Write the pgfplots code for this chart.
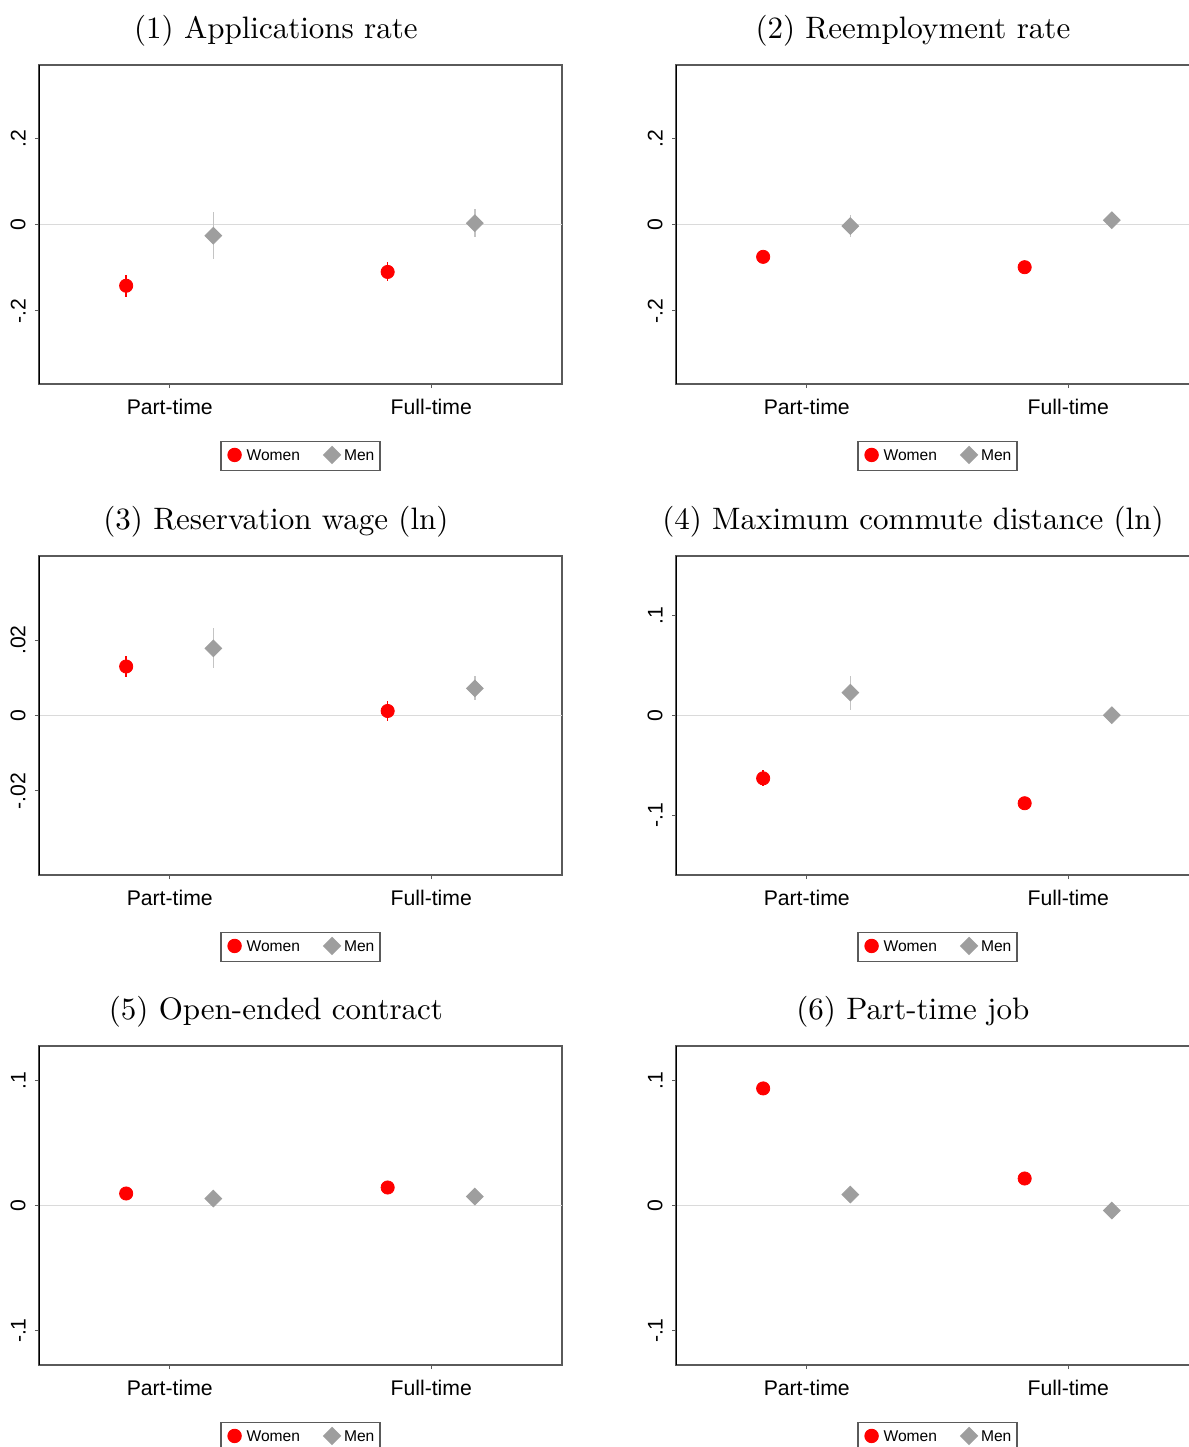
\documentclass[border=0pt]{standalone}
\usepackage{fontspec}
\usepackage{pgfplots}
\pgfplotsset{compat=1.18}
\newfontfamily\arial{Liberation Sans}
\newfontfamily\titlefont{lmroman10-regular.otf}
\definecolor{menGray}{RGB}{158,158,158}
\definecolor{menBar}{RGB}{196,196,196}
\definecolor{zeroLine}{RGB}{218,218,218}
\definecolor{frameGray}{RGB}{90,90,90}
\pgfplotsset{
  panel/.style={
    scale only axis, width=261.5pt, height=159.5pt,
    anchor=south west,
    xmin=0.5, xmax=2.5, xtick={1,2}, xticklabels={Part-time,Full-time},
    xtick pos=bottom, ytick pos=left,
    scaled y ticks=false,
    tick align=outside, major tick length=2pt,
    tick style={frameGray, line width=0.5pt},
    axis line style={frameGray, line width=0.6pt},
    ticklabel style={font=\arial\fontsize{10.6}{12}\selectfont},
    yticklabel style={rotate=90, anchor=south, inner sep=0pt},
    yticklabel shift=4.5pt,
    xticklabel style={anchor=north, inner sep=0pt},
    xticklabel shift=5.5pt,
    title style={at={(0.453,1)}, anchor=base, yshift=7.5pt, inner sep=0pt,
      font=\titlefont\fontsize{15.5}{18}\selectfont},
    legend style={at={(0.5,-0.1787)}, anchor=north, legend columns=2,
      draw=frameGray, line width=0.6pt, inner xsep=1.8pt, inner ysep=2.5pt,
      font=\arial\fontsize{7.8}{9}\selectfont,
      nodes={inner sep=1pt},
      /tikz/every even column/.append style={column sep=10pt}},
    legend image code/.code={\path[draw=none,fill=none] (0pt,1pt) (10pt,1pt);
      \draw[mark repeat=2,mark phase=2,##1] plot coordinates {(0pt,1pt) (5pt,1pt) (10pt,1pt)};},
  },
  women/.style={only marks, mark=*, mark size=3.3pt, color=red,
    error bars/.cd, y dir=both, y explicit, error mark=none,
    error bar style={red, line width=0.7pt}},
  men/.style={only marks, mark=square*, mark size=2.95pt, color=menGray,
    mark options={rotate=45, fill=menGray, draw=menGray},
    error bars/.cd, y dir=both, y explicit, error mark=none,
    error bar style={menBar, line width=0.7pt}},
}
\newcommand{\zeroline}{\addplot[zeroLine, line width=0.7pt, forget plot] coordinates {(0.5,0) (2.5,0)};}
\newcommand{\yaxisline}{\draw[black, line width=0.7pt] (rel axis cs:0,0) -- (rel axis cs:0,1);}
\begin{document}
\begin{tikzpicture}
\useasboundingbox (0pt,0pt) rectangle (594.5pt,-723.5pt);
\clip (0pt,0pt) rectangle (594.5pt,-723.5pt);

% (1)
\begin{axis}[panel, at={(19.5pt,-192pt)}, title={(1) Applications rate},
  ymin=-0.37, ymax=0.37, ytick={-0.2,0,0.2}, yticklabels={-.2,0,.2}]
\zeroline
\addplot[women] coordinates {(0.8333,-0.142) +- (0,0.026) (1.8333,-0.110) +- (0,0.022)};
\addplot[men] coordinates {(1.1667,-0.026) +- (0,0.055) (2.1667,0.003) +- (0,0.032)};
\legend{Women,Men}
\yaxisline
\end{axis}

% (2)
\begin{axis}[panel, at={(338pt,-192pt)}, title={(2) Reemployment rate},
  ymin=-0.37, ymax=0.37, ytick={-0.2,0,0.2}, yticklabels={-.2,0,.2}]
\zeroline
\addplot[women] coordinates {(0.8333,-0.075) +- (0,0.006) (1.8333,-0.099) +- (0,0.006)};
\addplot[men] coordinates {(1.1667,-0.0035) +- (0,0.025) (2.1667,0.010) +- (0,0.007)};
\legend{Women,Men}
\yaxisline
\end{axis}

% (3)
\begin{axis}[panel, at={(19.5pt,-437.5pt)}, title={(3) Reservation wage (ln)},
  ymin=-0.0423, ymax=0.0423, ytick={-0.02,0,0.02}, yticklabels={-.02,0,.02}]
\zeroline
\addplot[women] coordinates {(0.8333,0.0130) +- (0,0.0028) (1.8333,0.0012) +- (0,0.0027)};
\addplot[men] coordinates {(1.1667,0.0178) +- (0,0.0053) (2.1667,0.0072) +- (0,0.0032)};
\legend{Women,Men}
\yaxisline
\end{axis}

% (4)
\begin{axis}[panel, at={(338pt,-437.5pt)}, title={(4) Maximum commute distance (ln)},
  ymin=-0.16, ymax=0.16, ytick={-0.1,0,0.1}, yticklabels={-.1,0,.1}]
\zeroline
\addplot[women] coordinates {(0.8333,-0.063) +- (0,0.008) (1.8333,-0.088) +- (0,0.006)};
\addplot[men] coordinates {(1.1667,0.023) +- (0,0.017) (2.1667,0.0003) +- (0,0.004)};
\legend{Women,Men}
\yaxisline
\end{axis}

% (5)
\begin{axis}[panel, at={(19.5pt,-682.5pt)}, title={(5) Open-ended contract},
  ymin=-0.1275, ymax=0.1275, ytick={-0.1,0,0.1}, yticklabels={-.1,0,.1}]
\zeroline
\addplot[women] coordinates {(0.8333,0.0096) +- (0,0.004) (1.8333,0.0144) +- (0,0.004)};
\addplot[men] coordinates {(1.1667,0.0056) +- (0,0.004) (2.1667,0.0072) +- (0,0.004)};
\legend{Women,Men}
\yaxisline
\end{axis}

% (6)
\begin{axis}[panel, at={(338pt,-682.5pt)}, title={(6) Part-time job},
  ymin=-0.1275, ymax=0.1275, ytick={-0.1,0,0.1}, yticklabels={-.1,0,.1}]
\zeroline
\addplot[women] coordinates {(0.8333,0.0936) +- (0,0.004) (1.8333,0.0216) +- (0,0.004)};
\addplot[men] coordinates {(1.1667,0.0088) +- (0,0.004) (2.1667,-0.004) +- (0,0.004)};
\legend{Women,Men}
\yaxisline
\end{axis}
\end{tikzpicture}
\end{document}
